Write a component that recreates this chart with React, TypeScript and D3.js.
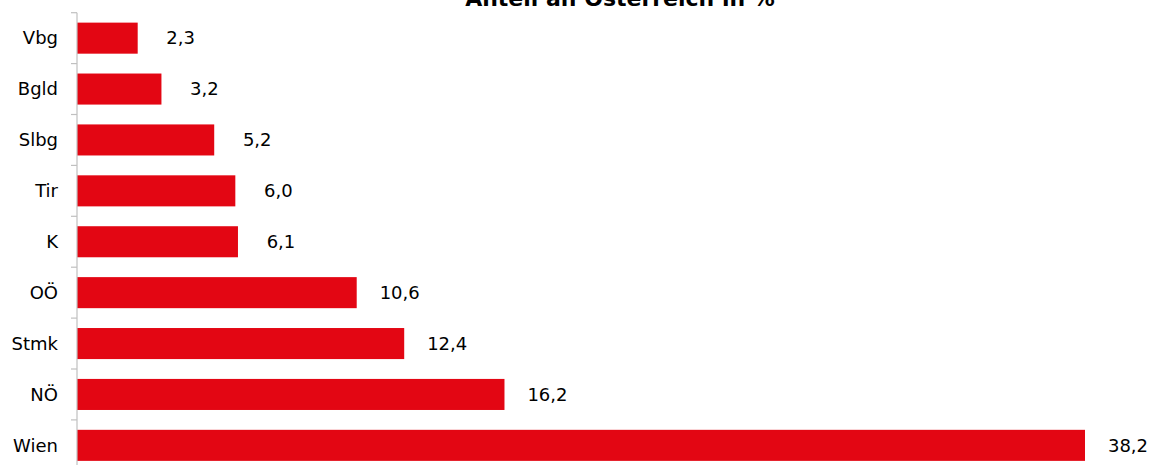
import React from "react";
import * as d3 from "d3";

const categories = ["Vbg", "Bgld", "Slbg", "Tir", "K", "OÖ", "Stmk", "NÖ", "Wien"];
const values = [2.3, 3.2, 5.2, 6.0, 6.1, 10.6, 12.4, 16.2, 38.2];
const title = "Anteil an Österreich in %";

const width = 1151;
const height = 465;
const left = 77;
const top = 12.7;
const step = 50.9;
const font = "'DejaVu Sans', sans-serif";

const App = () => {
  const x = d3.scaleLinear().domain([0, 38.2]).range([left, 1085]);
  const y = d3
    .scaleBand<string>()
    .domain(categories)
    .range([top, top + step * categories.length])
    .paddingInner(0.39)
    .paddingOuter(0.195);

  const fmt = (v: number) => d3.format(".1f")(v).replace(".", ",");
  const tickYs = d3.range(categories.length + 1).map((i) => top + i * step);

  return (
    <svg
      width={width}
      height={height}
      style={{ position: "absolute", left: 0, top: 0, background: "#fff" }}
      fontFamily={font}
    >
      <text
        x={620}
        y={6}
        textAnchor="middle"
        fontWeight="bold"
        fontSize={22}
        fill="#000"
      >
        {title}
      </text>
      {values.map((v, i) => (
        <rect
          key={categories[i]}
          x={x(0)}
          y={y(categories[i])}
          width={x(v) - x(0)}
          height={y.bandwidth()}
          fill="#E30613"
        />
      ))}
      <line x1={left} x2={left} y1={top} y2={height} stroke="#c0c0c0" strokeWidth={1.2} />
      {tickYs.map((t) => (
        <line key={t} x1={left - 6} x2={left} y1={t} y2={t} stroke="#c0c0c0" strokeWidth={1.2} />
      ))}
      {categories.map((c) => (
        <text
          key={c}
          x={58}
          y={(y(c) as number) + y.bandwidth() / 2}
          dy="0.35em"
          textAnchor="end"
          fontSize={18}
          fill="#000"
        >
          {c}
        </text>
      ))}
      {values.map((v, i) => (
        <text
          key={categories[i]}
          x={x(v) + 43}
          y={(y(categories[i]) as number) + y.bandwidth() / 2}
          dy="0.35em"
          textAnchor="middle"
          fontSize={18}
          fill="#000"
        >
          {fmt(v)}
        </text>
      ))}
    </svg>
  );
};

export default App;
